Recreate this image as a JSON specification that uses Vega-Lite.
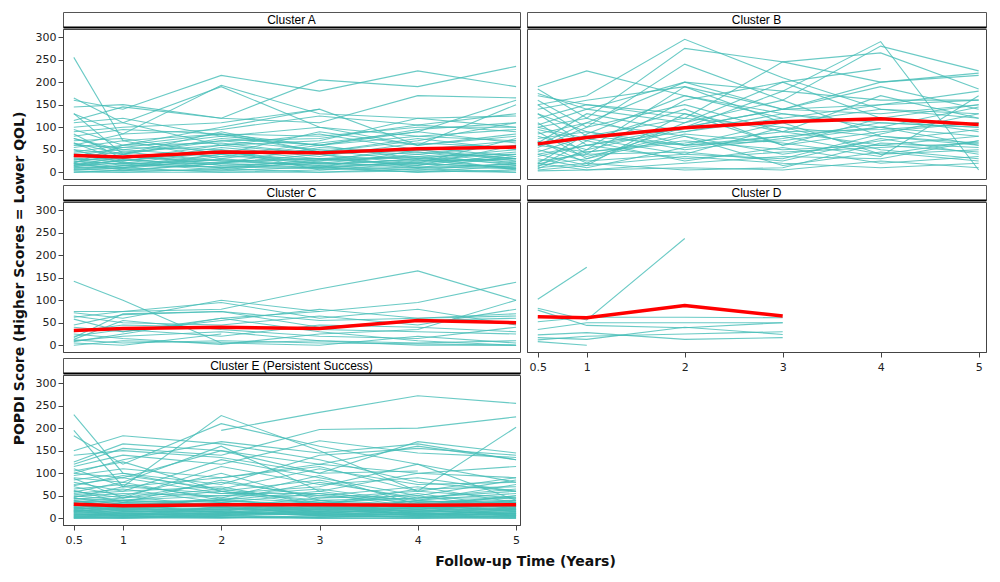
{
"$schema":"https://vega.github.io/schema/vega-lite/v6.json",
"padding":{"left":12,"top":11,"right":5,"bottom":6},
"background":"white",
"config":{
"view":{"stroke":"#444","strokeWidth":1},
"axis":{"labelFont":"DejaVu Sans","labelFontSize":11,"labelColor":"#222","tickColor":"#444","domainColor":"#444","tickSize":5,"grid":false,"labelPadding":2},
"title":{"font":"DejaVu Sans","fontSize":14,"fontWeight":"bold","color":"#111"}
},
"title":{"text":"Follow-up Time (Years)","orient":"bottom","anchor":"middle","offset":9,"dx":26},
"datasets":{
"avg":[
{"c":"A","t":0.5,"v":37},{"c":"A","t":1,"v":34},{"c":"A","t":2,"v":45},{"c":"A","t":3,"v":43},{"c":"A","t":4,"v":52},{"c":"A","t":5,"v":56},
{"c":"B","t":0.5,"v":63},{"c":"B","t":1,"v":77},{"c":"B","t":2,"v":99},{"c":"B","t":3,"v":112},{"c":"B","t":4,"v":119},{"c":"B","t":5,"v":106},
{"c":"C","t":0.5,"v":33},{"c":"C","t":1,"v":37},{"c":"C","t":2,"v":40},{"c":"C","t":3,"v":37},{"c":"C","t":4,"v":55},{"c":"C","t":5,"v":50},
{"c":"D","t":0.5,"v":63},{"c":"D","t":1,"v":61},{"c":"D","t":2,"v":88},{"c":"D","t":3,"v":65},
{"c":"E","t":0.5,"v":31},{"c":"E","t":1,"v":28},{"c":"E","t":2,"v":30},{"c":"E","t":3,"v":30},{"c":"E","t":4,"v":29},{"c":"E","t":5,"v":30}
],
"ind":[
{"c":"A","i":1,"t":0.5,"v":255},{"c":"A","i":1,"t":1,"v":70},{"c":"A","i":1,"t":2,"v":85},{"c":"A","i":1,"t":3,"v":60},{"c":"A","i":1,"t":4,"v":95},{"c":"A","i":1,"t":5,"v":110},
{"c":"A","i":2,"t":0.5,"v":165},{"c":"A","i":2,"t":1,"v":110},{"c":"A","i":2,"t":2,"v":60},{"c":"A","i":2,"t":3,"v":40},{"c":"A","i":2,"t":4,"v":50},{"c":"A","i":2,"t":5,"v":30},
{"c":"A","i":3,"t":0.5,"v":160},{"c":"A","i":3,"t":1,"v":140},{"c":"A","i":3,"t":2,"v":215},{"c":"A","i":3,"t":3,"v":180},{"c":"A","i":3,"t":4,"v":225},{"c":"A","i":3,"t":5,"v":190},
{"c":"A","i":4,"t":0.5,"v":145},{"c":"A","i":4,"t":1,"v":150},{"c":"A","i":4,"t":2,"v":120},{"c":"A","i":4,"t":3,"v":205},{"c":"A","i":4,"t":4,"v":190},{"c":"A","i":4,"t":5,"v":235},
{"c":"A","i":5,"t":0.5,"v":130},{"c":"A","i":5,"t":1,"v":85},{"c":"A","i":5,"t":2,"v":193},{"c":"A","i":5,"t":3,"v":130},{"c":"A","i":5,"t":4,"v":120},{"c":"A","i":5,"t":5,"v":100},
{"c":"A","i":6,"t":0.5,"v":130},{"c":"A","i":6,"t":1,"v":40},{"c":"A","i":6,"t":2,"v":75},{"c":"A","i":6,"t":3,"v":60},{"c":"A","i":6,"t":4,"v":90},{"c":"A","i":6,"t":5,"v":160},
{"c":"A","i":7,"t":0.5,"v":115},{"c":"A","i":7,"t":1,"v":145},{"c":"A","i":7,"t":2,"v":120},{"c":"A","i":7,"t":3,"v":110},{"c":"A","i":7,"t":4,"v":170},{"c":"A","i":7,"t":5,"v":165},
{"c":"A","i":8,"t":0.5,"v":100},{"c":"A","i":8,"t":1,"v":110},{"c":"A","i":8,"t":2,"v":190},{"c":"A","i":8,"t":3,"v":100},{"c":"A","i":8,"t":4,"v":80},{"c":"A","i":8,"t":5,"v":70},
{"c":"A","i":9,"t":0.5,"v":95},{"c":"A","i":9,"t":1,"v":60},{"c":"A","i":9,"t":2,"v":100},{"c":"A","i":9,"t":3,"v":140},{"c":"A","i":9,"t":4,"v":60},{"c":"A","i":9,"t":5,"v":80},
{"c":"A","i":10,"t":0.5,"v":85},{"c":"A","i":10,"t":1,"v":30},{"c":"A","i":10,"t":2,"v":60},{"c":"A","i":10,"t":3,"v":70},{"c":"A","i":10,"t":4,"v":120},{"c":"A","i":10,"t":5,"v":125},
{"c":"A","i":11,"t":0.5,"v":80},{"c":"A","i":11,"t":1,"v":95},{"c":"A","i":11,"t":2,"v":85},{"c":"A","i":11,"t":3,"v":80},{"c":"A","i":11,"t":4,"v":100},{"c":"A","i":11,"t":5,"v":100},
{"c":"A","i":12,"t":0.5,"v":75},{"c":"A","i":12,"t":1,"v":50},{"c":"A","i":12,"t":2,"v":70},{"c":"A","i":12,"t":3,"v":50},{"c":"A","i":12,"t":4,"v":40},{"c":"A","i":12,"t":5,"v":60},
{"c":"A","i":13,"t":0.5,"v":70},{"c":"A","i":13,"t":1,"v":75},{"c":"A","i":13,"t":2,"v":40},{"c":"A","i":13,"t":3,"v":90},{"c":"A","i":13,"t":4,"v":60},{"c":"A","i":13,"t":5,"v":85},
{"c":"A","i":14,"t":0.5,"v":65},{"c":"A","i":14,"t":1,"v":40},{"c":"A","i":14,"t":2,"v":90},{"c":"A","i":14,"t":3,"v":45},{"c":"A","i":14,"t":4,"v":75},{"c":"A","i":14,"t":5,"v":50},
{"c":"A","i":15,"t":0.5,"v":60},{"c":"A","i":15,"t":1,"v":55},{"c":"A","i":15,"t":2,"v":50},{"c":"A","i":15,"t":3,"v":30},{"c":"A","i":15,"t":4,"v":35},{"c":"A","i":15,"t":5,"v":40},
{"c":"A","i":16,"t":0.5,"v":55},{"c":"A","i":16,"t":1,"v":70},{"c":"A","i":16,"t":2,"v":30},{"c":"A","i":16,"t":3,"v":60},{"c":"A","i":16,"t":4,"v":80},{"c":"A","i":16,"t":5,"v":95},
{"c":"A","i":17,"t":0.5,"v":50},{"c":"A","i":17,"t":1,"v":20},{"c":"A","i":17,"t":2,"v":45},{"c":"A","i":17,"t":3,"v":25},{"c":"A","i":17,"t":4,"v":55},{"c":"A","i":17,"t":5,"v":35},
{"c":"A","i":18,"t":0.5,"v":45},{"c":"A","i":18,"t":1,"v":60},{"c":"A","i":18,"t":2,"v":65},{"c":"A","i":18,"t":3,"v":40},{"c":"A","i":18,"t":4,"v":20},{"c":"A","i":18,"t":5,"v":75},
{"c":"A","i":19,"t":0.5,"v":40},{"c":"A","i":19,"t":1,"v":35},{"c":"A","i":19,"t":2,"v":20},{"c":"A","i":19,"t":3,"v":55},{"c":"A","i":19,"t":4,"v":45},{"c":"A","i":19,"t":5,"v":30},
{"c":"A","i":20,"t":0.5,"v":38},{"c":"A","i":20,"t":1,"v":25},{"c":"A","i":20,"t":2,"v":55},{"c":"A","i":20,"t":3,"v":35},{"c":"A","i":20,"t":4,"v":65},{"c":"A","i":20,"t":5,"v":55},
{"c":"A","i":21,"t":0.5,"v":35},{"c":"A","i":21,"t":1,"v":45},{"c":"A","i":21,"t":2,"v":25},{"c":"A","i":21,"t":3,"v":15},{"c":"A","i":21,"t":4,"v":30},{"c":"A","i":21,"t":5,"v":20},
{"c":"A","i":22,"t":0.5,"v":30},{"c":"A","i":22,"t":1,"v":15},{"c":"A","i":22,"t":2,"v":40},{"c":"A","i":22,"t":3,"v":50},{"c":"A","i":22,"t":4,"v":25},{"c":"A","i":22,"t":5,"v":45},
{"c":"A","i":23,"t":0.5,"v":28},{"c":"A","i":23,"t":1,"v":30},{"c":"A","i":23,"t":2,"v":10},{"c":"A","i":23,"t":3,"v":20},{"c":"A","i":23,"t":4,"v":40},{"c":"A","i":23,"t":5,"v":15},
{"c":"A","i":24,"t":0.5,"v":25},{"c":"A","i":24,"t":1,"v":10},{"c":"A","i":24,"t":2,"v":35},{"c":"A","i":24,"t":3,"v":30},{"c":"A","i":24,"t":4,"v":15},{"c":"A","i":24,"t":5,"v":60},
{"c":"A","i":25,"t":0.5,"v":22},{"c":"A","i":25,"t":1,"v":40},{"c":"A","i":25,"t":2,"v":15},{"c":"A","i":25,"t":3,"v":10},{"c":"A","i":25,"t":4,"v":50},{"c":"A","i":25,"t":5,"v":25},
{"c":"A","i":26,"t":0.5,"v":20},{"c":"A","i":26,"t":1,"v":5},{"c":"A","i":26,"t":2,"v":20},{"c":"A","i":26,"t":3,"v":40},{"c":"A","i":26,"t":4,"v":10},{"c":"A","i":26,"t":5,"v":35},
{"c":"A","i":27,"t":0.5,"v":18},{"c":"A","i":27,"t":1,"v":25},{"c":"A","i":27,"t":2,"v":50},{"c":"A","i":27,"t":3,"v":5},{"c":"A","i":27,"t":4,"v":20},{"c":"A","i":27,"t":5,"v":10},
{"c":"A","i":28,"t":0.5,"v":15},{"c":"A","i":28,"t":1,"v":20},{"c":"A","i":28,"t":2,"v":5},{"c":"A","i":28,"t":3,"v":25},{"c":"A","i":28,"t":4,"v":35},{"c":"A","i":28,"t":5,"v":5},
{"c":"A","i":29,"t":0.5,"v":12},{"c":"A","i":29,"t":1,"v":8},{"c":"A","i":29,"t":2,"v":30},{"c":"A","i":29,"t":3,"v":15},{"c":"A","i":29,"t":4,"v":5},{"c":"A","i":29,"t":5,"v":20},
{"c":"A","i":30,"t":0.5,"v":10},{"c":"A","i":30,"t":1,"v":15},{"c":"A","i":30,"t":2,"v":12},{"c":"A","i":30,"t":3,"v":8},{"c":"A","i":30,"t":4,"v":25},{"c":"A","i":30,"t":5,"v":30},
{"c":"A","i":31,"t":0.5,"v":8},{"c":"A","i":31,"t":1,"v":3},{"c":"A","i":31,"t":2,"v":20},{"c":"A","i":31,"t":3,"v":10},{"c":"A","i":31,"t":4,"v":0},{"c":"A","i":31,"t":5,"v":15},
{"c":"A","i":32,"t":0.5,"v":5},{"c":"A","i":32,"t":1,"v":10},{"c":"A","i":32,"t":2,"v":0},{"c":"A","i":32,"t":3,"v":5},{"c":"A","i":32,"t":4,"v":12},{"c":"A","i":32,"t":5,"v":8},
{"c":"A","i":33,"t":0.5,"v":3},{"c":"A","i":33,"t":1,"v":0},{"c":"A","i":33,"t":2,"v":8},{"c":"A","i":33,"t":3,"v":0},{"c":"A","i":33,"t":4,"v":8},{"c":"A","i":33,"t":5,"v":0},
{"c":"A","i":34,"t":0.5,"v":0},{"c":"A","i":34,"t":1,"v":5},{"c":"A","i":34,"t":2,"v":3},{"c":"A","i":34,"t":3,"v":12},{"c":"A","i":34,"t":4,"v":0},{"c":"A","i":34,"t":5,"v":5},
{"c":"A","i":35,"t":0.5,"v":0},{"c":"A","i":35,"t":1,"v":0},{"c":"A","i":35,"t":2,"v":0},{"c":"A","i":35,"t":3,"v":0},{"c":"A","i":35,"t":4,"v":3},{"c":"A","i":35,"t":5,"v":0},
{"c":"A","i":36,"t":0.5,"v":90},{"c":"A","i":36,"t":1,"v":100},{"c":"A","i":36,"t":2,"v":110},{"c":"A","i":36,"t":3,"v":140},
{"c":"A","i":37,"t":0.5,"v":60},{"c":"A","i":37,"t":1,"v":85},{"c":"A","i":37,"t":2,"v":95},{"c":"A","i":37,"t":3,"v":125},{"c":"A","i":37,"t":4,"v":105},{"c":"A","i":37,"t":5,"v":130},
{"c":"A","i":38,"t":0.5,"v":110},{"c":"A","i":38,"t":1,"v":120},{"c":"A","i":38,"t":2,"v":80},{"c":"A","i":38,"t":3,"v":100},{"c":"A","i":38,"t":4,"v":60},{"c":"A","i":38,"t":5,"v":150},
{"c":"A","i":39,"t":0.5,"v":50},{"c":"A","i":39,"t":1,"v":40},{"c":"A","i":39,"t":2,"v":70},{"c":"A","i":39,"t":3,"v":75},{"c":"A","i":39,"t":4,"v":105},{"c":"A","i":39,"t":5,"v":90},
{"c":"A","i":40,"t":0.5,"v":20},{"c":"A","i":40,"t":1,"v":60},{"c":"A","i":40,"t":2,"v":85},{"c":"A","i":40,"t":3,"v":45},{"c":"A","i":40,"t":4,"v":70},{"c":"A","i":40,"t":5,"v":110},
{"c":"A","i":41,"t":0.5,"v":75},{"c":"A","i":41,"t":1,"v":45},{"c":"A","i":41,"t":2,"v":60},{"c":"A","i":41,"t":3,"v":85},{"c":"A","i":41,"t":4,"v":50},{"c":"A","i":41,"t":5,"v":70},
{"c":"A","i":42,"t":0.5,"v":42},{"c":"A","i":42,"t":1,"v":50},{"c":"A","i":42,"t":2,"v":35},{"c":"A","i":42,"t":3,"v":65},{"c":"A","i":42,"t":4,"v":90},{"c":"A","i":42,"t":5,"v":65},
{"c":"A","i":43,"t":0.5,"v":15},{"c":"A","i":43,"t":1,"v":35},{"c":"A","i":43,"t":2,"v":25},{"c":"A","i":43,"t":3,"v":30},{"c":"A","i":43,"t":4,"v":45},{"c":"A","i":43,"t":5,"v":20},
{"c":"A","i":44,"t":0.5,"v":65},{"c":"A","i":44,"t":1,"v":25},{"c":"A","i":44,"t":2,"v":45},{"c":"A","i":44,"t":3,"v":20},{"c":"A","i":44,"t":4,"v":15},{"c":"A","i":44,"t":5,"v":40},
{"c":"A","i":45,"t":0.5,"v":35},{"c":"A","i":45,"t":1,"v":55},{"c":"A","i":45,"t":2,"v":80},{"c":"A","i":45,"t":3,"v":60},{"c":"A","i":45,"t":4,"v":30},{"c":"A","i":45,"t":5,"v":50},
{"c":"A","i":46,"t":0.5,"v":25},{"c":"A","i":46,"t":1,"v":18},{"c":"A","i":46,"t":2,"v":28},{"c":"A","i":46,"t":3,"v":12},{"c":"A","i":46,"t":4,"v":22},{"c":"A","i":46,"t":5,"v":30},
{"c":"A","i":47,"t":0.5,"v":12},{"c":"A","i":47,"t":1,"v":28},{"c":"A","i":47,"t":2,"v":16},{"c":"A","i":47,"t":3,"v":22},{"c":"A","i":47,"t":4,"v":10},{"c":"A","i":47,"t":5,"v":18},
{"c":"A","i":48,"t":0.5,"v":6},{"c":"A","i":48,"t":1,"v":14},{"c":"A","i":48,"t":2,"v":22},{"c":"A","i":48,"t":3,"v":30},{"c":"A","i":48,"t":4,"v":18},{"c":"A","i":48,"t":5,"v":12},
{"c":"A","i":49,"t":0.5,"v":32},{"c":"A","i":49,"t":1,"v":22},{"c":"A","i":49,"t":2,"v":10},{"c":"A","i":49,"t":3,"v":28},{"c":"A","i":49,"t":4,"v":32},{"c":"A","i":49,"t":5,"v":24},
{"c":"A","i":50,"t":0.5,"v":18},{"c":"A","i":50,"t":1,"v":10},{"c":"A","i":50,"t":2,"v":40},{"c":"A","i":50,"t":3,"v":18},{"c":"A","i":50,"t":4,"v":28},{"c":"A","i":50,"t":5,"v":8},
{"c":"B","i":1,"t":0.5,"v":150},{"c":"B","i":1,"t":1,"v":170},{"c":"B","i":1,"t":2,"v":295},{"c":"B","i":1,"t":3,"v":210},{"c":"B","i":1,"t":4,"v":140},{"c":"B","i":1,"t":5,"v":120},
{"c":"B","i":2,"t":0.5,"v":190},{"c":"B","i":2,"t":1,"v":225},{"c":"B","i":2,"t":2,"v":170},{"c":"B","i":2,"t":3,"v":130},{"c":"B","i":2,"t":4,"v":100},{"c":"B","i":2,"t":5,"v":60},
{"c":"B","i":3,"t":0.5,"v":185},{"c":"B","i":3,"t":1,"v":120},{"c":"B","i":3,"t":2,"v":275},{"c":"B","i":3,"t":3,"v":245},{"c":"B","i":3,"t":4,"v":200},{"c":"B","i":3,"t":5,"v":220},
{"c":"B","i":4,"t":0.5,"v":175},{"c":"B","i":4,"t":1,"v":140},{"c":"B","i":4,"t":2,"v":200},{"c":"B","i":4,"t":3,"v":180},{"c":"B","i":4,"t":4,"v":290},{"c":"B","i":4,"t":5,"v":5},
{"c":"B","i":5,"t":0.5,"v":160},{"c":"B","i":5,"t":1,"v":100},{"c":"B","i":5,"t":2,"v":240},{"c":"B","i":5,"t":3,"v":160},{"c":"B","i":5,"t":4,"v":280},{"c":"B","i":5,"t":5,"v":225},
{"c":"B","i":6,"t":0.5,"v":150},{"c":"B","i":6,"t":1,"v":80},{"c":"B","i":6,"t":2,"v":120},{"c":"B","i":6,"t":3,"v":245},{"c":"B","i":6,"t":4,"v":265},{"c":"B","i":6,"t":5,"v":185},
{"c":"B","i":7,"t":0.5,"v":140},{"c":"B","i":7,"t":1,"v":160},{"c":"B","i":7,"t":2,"v":190},{"c":"B","i":7,"t":3,"v":140},{"c":"B","i":7,"t":4,"v":200},{"c":"B","i":7,"t":5,"v":215},
{"c":"B","i":8,"t":0.5,"v":130},{"c":"B","i":8,"t":1,"v":60},{"c":"B","i":8,"t":2,"v":100},{"c":"B","i":8,"t":3,"v":180},{"c":"B","i":8,"t":4,"v":160},{"c":"B","i":8,"t":5,"v":160},
{"c":"B","i":9,"t":0.5,"v":120},{"c":"B","i":9,"t":1,"v":150},{"c":"B","i":9,"t":2,"v":130},{"c":"B","i":9,"t":3,"v":90},{"c":"B","i":9,"t":4,"v":60},{"c":"B","i":9,"t":5,"v":80},
{"c":"B","i":10,"t":0.5,"v":110},{"c":"B","i":10,"t":1,"v":40},{"c":"B","i":10,"t":2,"v":160},{"c":"B","i":10,"t":3,"v":200},{"c":"B","i":10,"t":4,"v":120},{"c":"B","i":10,"t":5,"v":150},
{"c":"B","i":11,"t":0.5,"v":100},{"c":"B","i":11,"t":1,"v":120},{"c":"B","i":11,"t":2,"v":60},{"c":"B","i":11,"t":3,"v":110},{"c":"B","i":11,"t":4,"v":140},{"c":"B","i":11,"t":5,"v":130},
{"c":"B","i":12,"t":0.5,"v":95},{"c":"B","i":12,"t":1,"v":70},{"c":"B","i":12,"t":2,"v":140},{"c":"B","i":12,"t":3,"v":60},{"c":"B","i":12,"t":4,"v":90},{"c":"B","i":12,"t":5,"v":110},
{"c":"B","i":13,"t":0.5,"v":90},{"c":"B","i":13,"t":1,"v":30},{"c":"B","i":13,"t":2,"v":100},{"c":"B","i":13,"t":3,"v":140},{"c":"B","i":13,"t":4,"v":190},{"c":"B","i":13,"t":5,"v":140},
{"c":"B","i":14,"t":0.5,"v":85},{"c":"B","i":14,"t":1,"v":110},{"c":"B","i":14,"t":2,"v":80},{"c":"B","i":14,"t":3,"v":40},{"c":"B","i":14,"t":4,"v":70},{"c":"B","i":14,"t":5,"v":95},
{"c":"B","i":15,"t":0.5,"v":80},{"c":"B","i":15,"t":1,"v":50},{"c":"B","i":15,"t":2,"v":190},{"c":"B","i":15,"t":3,"v":110},{"c":"B","i":15,"t":4,"v":40},{"c":"B","i":15,"t":5,"v":70},
{"c":"B","i":16,"t":0.5,"v":75},{"c":"B","i":16,"t":1,"v":90},{"c":"B","i":16,"t":2,"v":50},{"c":"B","i":16,"t":3,"v":75},{"c":"B","i":16,"t":4,"v":110},{"c":"B","i":16,"t":5,"v":100},
{"c":"B","i":17,"t":0.5,"v":70},{"c":"B","i":17,"t":1,"v":20},{"c":"B","i":17,"t":2,"v":110},{"c":"B","i":17,"t":3,"v":160},{"c":"B","i":17,"t":4,"v":80},{"c":"B","i":17,"t":5,"v":60},
{"c":"B","i":18,"t":0.5,"v":65},{"c":"B","i":18,"t":1,"v":130},{"c":"B","i":18,"t":2,"v":90},{"c":"B","i":18,"t":3,"v":120},{"c":"B","i":18,"t":4,"v":150},{"c":"B","i":18,"t":5,"v":180},
{"c":"B","i":19,"t":0.5,"v":60},{"c":"B","i":19,"t":1,"v":45},{"c":"B","i":19,"t":2,"v":70},{"c":"B","i":19,"t":3,"v":50},{"c":"B","i":19,"t":4,"v":60},{"c":"B","i":19,"t":5,"v":45},
{"c":"B","i":20,"t":0.5,"v":55},{"c":"B","i":20,"t":1,"v":100},{"c":"B","i":20,"t":2,"v":150},{"c":"B","i":20,"t":3,"v":90},{"c":"B","i":20,"t":4,"v":170},{"c":"B","i":20,"t":5,"v":120},
{"c":"B","i":21,"t":0.5,"v":50},{"c":"B","i":21,"t":1,"v":25},{"c":"B","i":21,"t":2,"v":40},{"c":"B","i":21,"t":3,"v":100},{"c":"B","i":21,"t":4,"v":50},{"c":"B","i":21,"t":5,"v":30},
{"c":"B","i":22,"t":0.5,"v":45},{"c":"B","i":22,"t":1,"v":80},{"c":"B","i":22,"t":2,"v":60},{"c":"B","i":22,"t":3,"v":70},{"c":"B","i":22,"t":4,"v":100},{"c":"B","i":22,"t":5,"v":80},
{"c":"B","i":23,"t":0.5,"v":40},{"c":"B","i":23,"t":1,"v":15},{"c":"B","i":23,"t":2,"v":130},{"c":"B","i":23,"t":3,"v":60},{"c":"B","i":23,"t":4,"v":120},{"c":"B","i":23,"t":5,"v":90},
{"c":"B","i":24,"t":0.5,"v":35},{"c":"B","i":24,"t":1,"v":60},{"c":"B","i":24,"t":2,"v":30},{"c":"B","i":24,"t":3,"v":45},{"c":"B","i":24,"t":4,"v":55},{"c":"B","i":24,"t":5,"v":65},
{"c":"B","i":25,"t":0.5,"v":30},{"c":"B","i":25,"t":1,"v":10},{"c":"B","i":25,"t":2,"v":55},{"c":"B","i":25,"t":3,"v":80},{"c":"B","i":25,"t":4,"v":40},{"c":"B","i":25,"t":5,"v":50},
{"c":"B","i":26,"t":0.5,"v":25},{"c":"B","i":26,"t":1,"v":40},{"c":"B","i":26,"t":2,"v":45},{"c":"B","i":26,"t":3,"v":25},{"c":"B","i":26,"t":4,"v":75},{"c":"B","i":26,"t":5,"v":40},
{"c":"B","i":27,"t":0.5,"v":20},{"c":"B","i":27,"t":1,"v":5},{"c":"B","i":27,"t":2,"v":20},{"c":"B","i":27,"t":3,"v":35},{"c":"B","i":27,"t":4,"v":30},{"c":"B","i":27,"t":5,"v":70},
{"c":"B","i":28,"t":0.5,"v":15},{"c":"B","i":28,"t":1,"v":30},{"c":"B","i":28,"t":2,"v":80},{"c":"B","i":28,"t":3,"v":15},{"c":"B","i":28,"t":4,"v":45},{"c":"B","i":28,"t":5,"v":25},
{"c":"B","i":29,"t":0.5,"v":12},{"c":"B","i":29,"t":1,"v":70},{"c":"B","i":29,"t":2,"v":25},{"c":"B","i":29,"t":3,"v":55},{"c":"B","i":29,"t":4,"v":20},{"c":"B","i":29,"t":5,"v":35},
{"c":"B","i":30,"t":0.5,"v":10},{"c":"B","i":30,"t":1,"v":20},{"c":"B","i":30,"t":2,"v":5},{"c":"B","i":30,"t":3,"v":10},{"c":"B","i":30,"t":4,"v":65},{"c":"B","i":30,"t":5,"v":55},
{"c":"B","i":31,"t":0.5,"v":8},{"c":"B","i":31,"t":1,"v":50},{"c":"B","i":31,"t":2,"v":100},{"c":"B","i":31,"t":3,"v":140},{"c":"B","i":31,"t":4,"v":130},{"c":"B","i":31,"t":5,"v":150},
{"c":"B","i":32,"t":0.5,"v":5},{"c":"B","i":32,"t":1,"v":15},{"c":"B","i":32,"t":2,"v":35},{"c":"B","i":32,"t":3,"v":20},{"c":"B","i":32,"t":4,"v":10},{"c":"B","i":32,"t":5,"v":20},
{"c":"B","i":33,"t":0.5,"v":3},{"c":"B","i":33,"t":1,"v":5},{"c":"B","i":33,"t":2,"v":10},{"c":"B","i":33,"t":3,"v":5},{"c":"B","i":33,"t":4,"v":25},{"c":"B","i":33,"t":5,"v":10},
{"c":"B","i":34,"t":0.5,"v":20},{"c":"B","i":34,"t":1,"v":85},{"c":"B","i":34,"t":2,"v":170},{"c":"B","i":34,"t":3,"v":120},
{"c":"B","i":35,"t":0.5,"v":130},{"c":"B","i":35,"t":1,"v":90},{"c":"B","i":35,"t":2,"v":60},{"c":"B","i":35,"t":3,"v":80},{"c":"B","i":35,"t":4,"v":100},{"c":"B","i":35,"t":5,"v":145},
{"c":"B","i":36,"t":0.5,"v":105},{"c":"B","i":36,"t":1,"v":140},{"c":"B","i":36,"t":2,"v":110},{"c":"B","i":36,"t":3,"v":200},{"c":"B","i":36,"t":4,"v":230},
{"c":"B","i":37,"t":0.5,"v":60},{"c":"B","i":37,"t":1,"v":110},{"c":"B","i":37,"t":2,"v":200},{"c":"B","i":37,"t":3,"v":140},{"c":"B","i":37,"t":4,"v":150},{"c":"B","i":37,"t":5,"v":160},
{"c":"B","i":38,"t":0.5,"v":40},{"c":"B","i":38,"t":1,"v":60},{"c":"B","i":38,"t":2,"v":90},{"c":"B","i":38,"t":3,"v":130},{"c":"B","i":38,"t":4,"v":110},{"c":"B","i":38,"t":5,"v":100},
{"c":"B","i":39,"t":0.5,"v":100},{"c":"B","i":39,"t":1,"v":75},{"c":"B","i":39,"t":2,"v":40},{"c":"B","i":39,"t":3,"v":30},{"c":"B","i":39,"t":4,"v":85},{"c":"B","i":39,"t":5,"v":130},
{"c":"B","i":40,"t":0.5,"v":170},{"c":"B","i":40,"t":1,"v":150},{"c":"B","i":40,"t":2,"v":120},{"c":"B","i":40,"t":3,"v":100},{"c":"B","i":40,"t":4,"v":80},{"c":"B","i":40,"t":5,"v":65},
{"c":"B","i":41,"t":0.5,"v":18},{"c":"B","i":41,"t":1,"v":45},{"c":"B","i":41,"t":2,"v":65},{"c":"B","i":41,"t":3,"v":90},{"c":"B","i":41,"t":4,"v":95},{"c":"B","i":41,"t":5,"v":110},
{"c":"B","i":42,"t":0.5,"v":68},{"c":"B","i":42,"t":1,"v":35},{"c":"B","i":42,"t":2,"v":85},{"c":"B","i":42,"t":3,"v":65},{"c":"B","i":42,"t":4,"v":35},{"c":"B","i":42,"t":5,"v":170},
{"c":"C","i":1,"t":0.5,"v":142},{"c":"C","i":1,"t":1,"v":100},{"c":"C","i":1,"t":2,"v":5},{"c":"C","i":1,"t":3,"v":10},{"c":"C","i":1,"t":4,"v":0},{"c":"C","i":1,"t":5,"v":0},
{"c":"C","i":2,"t":0.5,"v":75},{"c":"C","i":2,"t":1,"v":75},{"c":"C","i":2,"t":2,"v":80},{"c":"C","i":2,"t":3,"v":125},{"c":"C","i":2,"t":4,"v":165},{"c":"C","i":2,"t":5,"v":100},
{"c":"C","i":3,"t":0.5,"v":72},{"c":"C","i":3,"t":1,"v":60},{"c":"C","i":3,"t":2,"v":100},{"c":"C","i":3,"t":3,"v":75},{"c":"C","i":3,"t":4,"v":95},{"c":"C","i":3,"t":5,"v":140},
{"c":"C","i":4,"t":0.5,"v":62},{"c":"C","i":4,"t":1,"v":75},{"c":"C","i":4,"t":2,"v":95},{"c":"C","i":4,"t":3,"v":60},{"c":"C","i":4,"t":4,"v":80},{"c":"C","i":4,"t":5,"v":45},
{"c":"C","i":5,"t":0.5,"v":58},{"c":"C","i":5,"t":1,"v":30},{"c":"C","i":5,"t":2,"v":55},{"c":"C","i":5,"t":3,"v":80},{"c":"C","i":5,"t":4,"v":60},{"c":"C","i":5,"t":5,"v":70},
{"c":"C","i":6,"t":0.5,"v":45},{"c":"C","i":6,"t":1,"v":68},{"c":"C","i":6,"t":2,"v":75},{"c":"C","i":6,"t":3,"v":40},{"c":"C","i":6,"t":4,"v":55},{"c":"C","i":6,"t":5,"v":60},
{"c":"C","i":7,"t":0.5,"v":30},{"c":"C","i":7,"t":1,"v":45},{"c":"C","i":7,"t":2,"v":40},{"c":"C","i":7,"t":3,"v":35},{"c":"C","i":7,"t":4,"v":30},{"c":"C","i":7,"t":5,"v":25},
{"c":"C","i":8,"t":0.5,"v":17},{"c":"C","i":8,"t":1,"v":70},{"c":"C","i":8,"t":2,"v":75},{"c":"C","i":8,"t":3,"v":55},{"c":"C","i":8,"t":4,"v":60},{"c":"C","i":8,"t":5,"v":65},
{"c":"C","i":9,"t":0.5,"v":13},{"c":"C","i":9,"t":1,"v":55},{"c":"C","i":9,"t":2,"v":35},{"c":"C","i":9,"t":3,"v":20},{"c":"C","i":9,"t":4,"v":15},{"c":"C","i":9,"t":5,"v":40},
{"c":"C","i":10,"t":0.5,"v":10},{"c":"C","i":10,"t":1,"v":20},{"c":"C","i":10,"t":2,"v":30},{"c":"C","i":10,"t":3,"v":10},{"c":"C","i":10,"t":4,"v":5},{"c":"C","i":10,"t":5,"v":10},
{"c":"C","i":11,"t":0.5,"v":0},{"c":"C","i":11,"t":1,"v":10},{"c":"C","i":11,"t":2,"v":5},{"c":"C","i":11,"t":3,"v":0},{"c":"C","i":11,"t":4,"v":20},{"c":"C","i":11,"t":5,"v":5},
{"c":"C","i":12,"t":0.5,"v":5},{"c":"C","i":12,"t":1,"v":0},{"c":"C","i":12,"t":2,"v":25},
{"c":"C","i":13,"t":0.5,"v":20},{"c":"C","i":13,"t":1,"v":35},{"c":"C","i":13,"t":2,"v":20},{"c":"C","i":13,"t":3,"v":45},{"c":"C","i":13,"t":4,"v":40},{"c":"C","i":13,"t":5,"v":30},
{"c":"C","i":14,"t":0.5,"v":12},{"c":"C","i":14,"t":1,"v":5},{"c":"C","i":14,"t":2,"v":10},{"c":"C","i":14,"t":3,"v":5},{"c":"C","i":14,"t":4,"v":3},{"c":"C","i":14,"t":5,"v":0},
{"c":"C","i":15,"t":0.5,"v":40},{"c":"C","i":15,"t":1,"v":30},{"c":"C","i":15,"t":2,"v":60},{"c":"C","i":15,"t":3,"v":75},
{"c":"C","i":16,"t":0.5,"v":25},{"c":"C","i":16,"t":1,"v":15},{"c":"C","i":16,"t":2,"v":2},{"c":"C","i":16,"t":3,"v":25},{"c":"C","i":16,"t":4,"v":35},{"c":"C","i":16,"t":5,"v":100},
{"c":"C","i":17,"t":0.5,"v":65},{"c":"C","i":17,"t":1,"v":50},{"c":"C","i":17,"t":2,"v":45},{"c":"C","i":17,"t":3,"v":65},{"c":"C","i":17,"t":4,"v":45},{"c":"C","i":17,"t":5,"v":80},
{"c":"C","i":18,"t":0.5,"v":8},{"c":"C","i":18,"t":1,"v":25},{"c":"C","i":18,"t":2,"v":60},{"c":"C","i":18,"t":3,"v":30},{"c":"C","i":18,"t":4,"v":10},{"c":"C","i":18,"t":5,"v":0},
{"c":"D","i":1,"t":0.5,"v":102},{"c":"D","i":1,"t":1,"v":173},
{"c":"D","i":2,"t":0.5,"v":82},{"c":"D","i":2,"t":1,"v":56},{"c":"D","i":2,"t":2,"v":237},
{"c":"D","i":3,"t":0.5,"v":78},{"c":"D","i":3,"t":1,"v":44},{"c":"D","i":3,"t":2,"v":39},{"c":"D","i":3,"t":3,"v":50},
{"c":"D","i":4,"t":0.5,"v":52},{"c":"D","i":4,"t":1,"v":62},{"c":"D","i":4,"t":2,"v":62},{"c":"D","i":4,"t":3,"v":61},
{"c":"D","i":5,"t":0.5,"v":35},{"c":"D","i":5,"t":1,"v":50},{"c":"D","i":5,"t":2,"v":50},{"c":"D","i":5,"t":3,"v":50},
{"c":"D","i":6,"t":0.5,"v":23},{"c":"D","i":6,"t":1,"v":28},{"c":"D","i":6,"t":2,"v":13},{"c":"D","i":6,"t":3,"v":17},
{"c":"D","i":7,"t":0.5,"v":17},{"c":"D","i":7,"t":1,"v":13},{"c":"D","i":7,"t":2,"v":40},{"c":"D","i":7,"t":3,"v":24},
{"c":"D","i":8,"t":0.5,"v":8},{"c":"D","i":8,"t":1,"v":0},
{"c":"D","i":9,"t":0.5,"v":12},{"c":"D","i":9,"t":1,"v":20},{"c":"D","i":9,"t":2,"v":25},{"c":"D","i":9,"t":3,"v":30},
{"c":"E","i":1,"t":0.5,"v":230},{"c":"E","i":1,"t":1,"v":100},{"c":"E","i":1,"t":2,"v":60},{"c":"E","i":1,"t":3,"v":40},{"c":"E","i":1,"t":4,"v":30},{"c":"E","i":1,"t":5,"v":20},
{"c":"E","i":2,"t":0.5,"v":195},{"c":"E","i":2,"t":1,"v":70},{"c":"E","i":2,"t":2,"v":228},{"c":"E","i":2,"t":3,"v":150},{"c":"E","i":2,"t":4,"v":60},{"c":"E","i":2,"t":5,"v":45},
{"c":"E","i":3,"t":0.5,"v":183},{"c":"E","i":3,"t":1,"v":120},{"c":"E","i":3,"t":2,"v":210},{"c":"E","i":3,"t":3,"v":160},{"c":"E","i":3,"t":4,"v":120},{"c":"E","i":3,"t":5,"v":80},
{"c":"E","i":4,"t":0.5,"v":150},{"c":"E","i":4,"t":1,"v":183},{"c":"E","i":4,"t":2,"v":165},{"c":"E","i":4,"t":3,"v":130},{"c":"E","i":4,"t":4,"v":80},{"c":"E","i":4,"t":5,"v":60},
{"c":"E","i":5,"t":0.5,"v":125},{"c":"E","i":5,"t":1,"v":165},{"c":"E","i":5,"t":2,"v":150},{"c":"E","i":5,"t":3,"v":100},{"c":"E","i":5,"t":4,"v":170},{"c":"E","i":5,"t":5,"v":145},
{"c":"E","i":6,"t":0.5,"v":120},{"c":"E","i":6,"t":1,"v":155},{"c":"E","i":6,"t":2,"v":140},{"c":"E","i":6,"t":3,"v":197},{"c":"E","i":6,"t":4,"v":200},{"c":"E","i":6,"t":5,"v":225},
{"c":"E","i":7,"t":0.5,"v":115},{"c":"E","i":7,"t":1,"v":140},{"c":"E","i":7,"t":2,"v":120},{"c":"E","i":7,"t":3,"v":172},{"c":"E","i":7,"t":4,"v":145},{"c":"E","i":7,"t":5,"v":135},
{"c":"E","i":8,"t":2,"v":195},{"c":"E","i":8,"t":3,"v":235},{"c":"E","i":8,"t":4,"v":272},{"c":"E","i":8,"t":5,"v":255},
{"c":"E","i":9,"t":0.5,"v":100},{"c":"E","i":9,"t":1,"v":130},{"c":"E","i":9,"t":2,"v":170},{"c":"E","i":9,"t":3,"v":145},{"c":"E","i":9,"t":4,"v":165},{"c":"E","i":9,"t":5,"v":130},
{"c":"E","i":10,"t":0.5,"v":95},{"c":"E","i":10,"t":1,"v":110},{"c":"E","i":10,"t":2,"v":90},{"c":"E","i":10,"t":3,"v":115},{"c":"E","i":10,"t":4,"v":60},{"c":"E","i":10,"t":5,"v":202},
{"c":"E","i":11,"t":0.5,"v":90},{"c":"E","i":11,"t":1,"v":80},{"c":"E","i":11,"t":2,"v":160},{"c":"E","i":11,"t":3,"v":60},{"c":"E","i":11,"t":4,"v":100},{"c":"E","i":11,"t":5,"v":115},
{"c":"E","i":12,"t":0.5,"v":85},{"c":"E","i":12,"t":1,"v":100},{"c":"E","i":12,"t":2,"v":75},{"c":"E","i":12,"t":3,"v":140},{"c":"E","i":12,"t":4,"v":155},{"c":"E","i":12,"t":5,"v":140},
{"c":"E","i":13,"t":0.5,"v":80},{"c":"E","i":13,"t":1,"v":60},{"c":"E","i":13,"t":2,"v":130},{"c":"E","i":13,"t":3,"v":90},{"c":"E","i":13,"t":4,"v":50},{"c":"E","i":13,"t":5,"v":85},
{"c":"E","i":14,"t":0.5,"v":75},{"c":"E","i":14,"t":1,"v":90},{"c":"E","i":14,"t":2,"v":55},{"c":"E","i":14,"t":3,"v":70},{"c":"E","i":14,"t":4,"v":120},{"c":"E","i":14,"t":5,"v":40},
{"c":"E","i":15,"t":0.5,"v":70},{"c":"E","i":15,"t":1,"v":50},{"c":"E","i":15,"t":2,"v":100},{"c":"E","i":15,"t":3,"v":40},{"c":"E","i":15,"t":4,"v":45},{"c":"E","i":15,"t":5,"v":65},
{"c":"E","i":16,"t":0.5,"v":65},{"c":"E","i":16,"t":1,"v":75},{"c":"E","i":16,"t":2,"v":45},{"c":"E","i":16,"t":3,"v":95},{"c":"E","i":16,"t":4,"v":30},{"c":"E","i":16,"t":5,"v":50},
{"c":"E","i":17,"t":0.5,"v":60},{"c":"E","i":17,"t":1,"v":45},{"c":"E","i":17,"t":2,"v":80},{"c":"E","i":17,"t":3,"v":50},{"c":"E","i":17,"t":4,"v":70},{"c":"E","i":17,"t":5,"v":35},
{"c":"E","i":18,"t":0.5,"v":55},{"c":"E","i":18,"t":1,"v":65},{"c":"E","i":18,"t":2,"v":35},{"c":"E","i":18,"t":3,"v":55},{"c":"E","i":18,"t":4,"v":40},{"c":"E","i":18,"t":5,"v":55},
{"c":"E","i":19,"t":0.5,"v":50},{"c":"E","i":19,"t":1,"v":40},{"c":"E","i":19,"t":2,"v":60},{"c":"E","i":19,"t":3,"v":30},{"c":"E","i":19,"t":4,"v":55},{"c":"E","i":19,"t":5,"v":25},
{"c":"E","i":20,"t":0.5,"v":48},{"c":"E","i":20,"t":1,"v":55},{"c":"E","i":20,"t":2,"v":50},{"c":"E","i":20,"t":3,"v":65},{"c":"E","i":20,"t":4,"v":35},{"c":"E","i":20,"t":5,"v":45},
{"c":"E","i":21,"t":0.5,"v":45},{"c":"E","i":21,"t":1,"v":30},{"c":"E","i":21,"t":2,"v":40},{"c":"E","i":21,"t":3,"v":25},{"c":"E","i":21,"t":4,"v":25},{"c":"E","i":21,"t":5,"v":30},
{"c":"E","i":22,"t":0.5,"v":42},{"c":"E","i":22,"t":1,"v":50},{"c":"E","i":22,"t":2,"v":25},{"c":"E","i":22,"t":3,"v":45},{"c":"E","i":22,"t":4,"v":50},{"c":"E","i":22,"t":5,"v":20},
{"c":"E","i":23,"t":0.5,"v":40},{"c":"E","i":23,"t":1,"v":25},{"c":"E","i":23,"t":2,"v":45},{"c":"E","i":23,"t":3,"v":35},{"c":"E","i":23,"t":4,"v":20},{"c":"E","i":23,"t":5,"v":40},
{"c":"E","i":24,"t":0.5,"v":38},{"c":"E","i":24,"t":1,"v":35},{"c":"E","i":24,"t":2,"v":30},{"c":"E","i":24,"t":3,"v":20},{"c":"E","i":24,"t":4,"v":30},{"c":"E","i":24,"t":5,"v":15},
{"c":"E","i":25,"t":0.5,"v":35},{"c":"E","i":25,"t":1,"v":20},{"c":"E","i":25,"t":2,"v":20},{"c":"E","i":25,"t":3,"v":30},{"c":"E","i":25,"t":4,"v":15},{"c":"E","i":25,"t":5,"v":35},
{"c":"E","i":26,"t":0.5,"v":32},{"c":"E","i":26,"t":1,"v":30},{"c":"E","i":26,"t":2,"v":35},{"c":"E","i":26,"t":3,"v":15},{"c":"E","i":26,"t":4,"v":40},{"c":"E","i":26,"t":5,"v":25},
{"c":"E","i":27,"t":0.5,"v":30},{"c":"E","i":27,"t":1,"v":15},{"c":"E","i":27,"t":2,"v":15},{"c":"E","i":27,"t":3,"v":40},{"c":"E","i":27,"t":4,"v":10},{"c":"E","i":27,"t":5,"v":10},
{"c":"E","i":28,"t":0.5,"v":28},{"c":"E","i":28,"t":1,"v":25},{"c":"E","i":28,"t":2,"v":25},{"c":"E","i":28,"t":3,"v":10},{"c":"E","i":28,"t":4,"v":25},{"c":"E","i":28,"t":5,"v":30},
{"c":"E","i":29,"t":0.5,"v":25},{"c":"E","i":29,"t":1,"v":10},{"c":"E","i":29,"t":2,"v":10},{"c":"E","i":29,"t":3,"v":25},{"c":"E","i":29,"t":4,"v":5},{"c":"E","i":29,"t":5,"v":20},
{"c":"E","i":30,"t":0.5,"v":22},{"c":"E","i":30,"t":1,"v":20},{"c":"E","i":30,"t":2,"v":30},{"c":"E","i":30,"t":3,"v":5},{"c":"E","i":30,"t":4,"v":20},{"c":"E","i":30,"t":5,"v":5},
{"c":"E","i":31,"t":0.5,"v":20},{"c":"E","i":31,"t":1,"v":5},{"c":"E","i":31,"t":2,"v":5},{"c":"E","i":31,"t":3,"v":20},{"c":"E","i":31,"t":4,"v":15},{"c":"E","i":31,"t":5,"v":25},
{"c":"E","i":32,"t":0.5,"v":18},{"c":"E","i":32,"t":1,"v":15},{"c":"E","i":32,"t":2,"v":20},{"c":"E","i":32,"t":3,"v":12},{"c":"E","i":32,"t":4,"v":10},{"c":"E","i":32,"t":5,"v":15},
{"c":"E","i":33,"t":0.5,"v":15},{"c":"E","i":33,"t":1,"v":10},{"c":"E","i":33,"t":2,"v":12},{"c":"E","i":33,"t":3,"v":8},{"c":"E","i":33,"t":4,"v":8},{"c":"E","i":33,"t":5,"v":10},
{"c":"E","i":34,"t":0.5,"v":12},{"c":"E","i":34,"t":1,"v":8},{"c":"E","i":34,"t":2,"v":8},{"c":"E","i":34,"t":3,"v":15},{"c":"E","i":34,"t":4,"v":12},{"c":"E","i":34,"t":5,"v":5},
{"c":"E","i":35,"t":0.5,"v":10},{"c":"E","i":35,"t":1,"v":5},{"c":"E","i":35,"t":2,"v":15},{"c":"E","i":35,"t":3,"v":5},{"c":"E","i":35,"t":4,"v":3},{"c":"E","i":35,"t":5,"v":12},
{"c":"E","i":36,"t":0.5,"v":8},{"c":"E","i":36,"t":1,"v":3},{"c":"E","i":36,"t":2,"v":5},{"c":"E","i":36,"t":3,"v":10},{"c":"E","i":36,"t":4,"v":7},{"c":"E","i":36,"t":5,"v":8},
{"c":"E","i":37,"t":0.5,"v":6},{"c":"E","i":37,"t":1,"v":12},{"c":"E","i":37,"t":2,"v":3},{"c":"E","i":37,"t":3,"v":3},{"c":"E","i":37,"t":4,"v":5},{"c":"E","i":37,"t":5,"v":3},
{"c":"E","i":38,"t":0.5,"v":5},{"c":"E","i":38,"t":1,"v":2},{"c":"E","i":38,"t":2,"v":10},{"c":"E","i":38,"t":3,"v":8},{"c":"E","i":38,"t":4,"v":2},{"c":"E","i":38,"t":5,"v":6},
{"c":"E","i":39,"t":0.5,"v":3},{"c":"E","i":39,"t":1,"v":6},{"c":"E","i":39,"t":2,"v":2},{"c":"E","i":39,"t":3,"v":2},{"c":"E","i":39,"t":4,"v":10},{"c":"E","i":39,"t":5,"v":2},
{"c":"E","i":40,"t":0.5,"v":2},{"c":"E","i":40,"t":1,"v":0},{"c":"E","i":40,"t":2,"v":6},{"c":"E","i":40,"t":3,"v":0},{"c":"E","i":40,"t":4,"v":0},{"c":"E","i":40,"t":5,"v":4},
{"c":"E","i":41,"t":0.5,"v":0},{"c":"E","i":41,"t":1,"v":3},{"c":"E","i":41,"t":2,"v":0},{"c":"E","i":41,"t":3,"v":6},{"c":"E","i":41,"t":4,"v":4},{"c":"E","i":41,"t":5,"v":0},
{"c":"E","i":42,"t":0.5,"v":0},{"c":"E","i":42,"t":1,"v":0},{"c":"E","i":42,"t":2,"v":2},{"c":"E","i":42,"t":3,"v":1},{"c":"E","i":42,"t":4,"v":0},{"c":"E","i":42,"t":5,"v":1},
{"c":"E","i":43,"t":0.5,"v":1},{"c":"E","i":43,"t":1,"v":1},{"c":"E","i":43,"t":2,"v":1},{"c":"E","i":43,"t":3,"v":0},{"c":"E","i":43,"t":4,"v":1},{"c":"E","i":43,"t":5,"v":0},
{"c":"E","i":44,"t":0.5,"v":110},{"c":"E","i":44,"t":1,"v":70},{"c":"E","i":44,"t":2,"v":90},{"c":"E","i":44,"t":3,"v":120},{"c":"E","i":44,"t":4,"v":100},{"c":"E","i":44,"t":5,"v":90},
{"c":"E","i":45,"t":0.5,"v":105},{"c":"E","i":45,"t":1,"v":125},{"c":"E","i":45,"t":2,"v":60},{"c":"E","i":45,"t":3,"v":85},{"c":"E","i":45,"t":4,"v":40},{"c":"E","i":45,"t":5,"v":75},
{"c":"E","i":46,"t":0.5,"v":88},{"c":"E","i":46,"t":1,"v":45},{"c":"E","i":46,"t":2,"v":115},{"c":"E","i":46,"t":3,"v":75},{"c":"E","i":46,"t":4,"v":90},{"c":"E","i":46,"t":5,"v":60},
{"c":"E","i":47,"t":0.5,"v":72},{"c":"E","i":47,"t":1,"v":95},{"c":"E","i":47,"t":2,"v":65},{"c":"E","i":47,"t":3,"v":110},{"c":"E","i":47,"t":4,"v":75},{"c":"E","i":47,"t":5,"v":80},
{"c":"E","i":48,"t":0.5,"v":62},{"c":"E","i":48,"t":1,"v":35},{"c":"E","i":48,"t":2,"v":85},{"c":"E","i":48,"t":3,"v":45},{"c":"E","i":48,"t":4,"v":60},{"c":"E","i":48,"t":5,"v":90},
{"c":"E","i":49,"t":0.5,"v":58},{"c":"E","i":49,"t":1,"v":80},{"c":"E","i":49,"t":2,"v":40},{"c":"E","i":49,"t":3,"v":80},{"c":"E","i":49,"t":4,"v":45},{"c":"E","i":49,"t":5,"v":45},
{"c":"E","i":50,"t":0.5,"v":52},{"c":"E","i":50,"t":1,"v":60},{"c":"E","i":50,"t":2,"v":70},{"c":"E","i":50,"t":3,"v":30},{"c":"E","i":50,"t":4,"v":65},{"c":"E","i":50,"t":5,"v":70},
{"c":"E","i":51,"t":0.5,"v":46},{"c":"E","i":51,"t":1,"v":70},{"c":"E","i":51,"t":2,"v":55},{"c":"E","i":51,"t":3,"v":55},{"c":"E","i":51,"t":4,"v":25},{"c":"E","i":51,"t":5,"v":50},
{"c":"E","i":52,"t":0.5,"v":36},{"c":"E","i":52,"t":1,"v":45},{"c":"E","i":52,"t":2,"v":65},{"c":"E","i":52,"t":3,"v":35},{"c":"E","i":52,"t":4,"v":45},{"c":"E","i":52,"t":5,"v":60},
{"c":"E","i":53,"t":0.5,"v":26},{"c":"E","i":53,"t":1,"v":40},{"c":"E","i":53,"t":2,"v":50},{"c":"E","i":53,"t":3,"v":50},{"c":"E","i":53,"t":4,"v":35},{"c":"E","i":53,"t":5,"v":40},
{"c":"E","i":54,"t":0.5,"v":16},{"c":"E","i":54,"t":1,"v":35},{"c":"E","i":54,"t":2,"v":40},{"c":"E","i":54,"t":3,"v":60},{"c":"E","i":54,"t":4,"v":30},{"c":"E","i":54,"t":5,"v":35},
{"c":"E","i":55,"t":0.5,"v":14},{"c":"E","i":55,"t":1,"v":25},{"c":"E","i":55,"t":2,"v":18},{"c":"E","i":55,"t":3,"v":22},{"c":"E","i":55,"t":4,"v":18},{"c":"E","i":55,"t":5,"v":22},
{"c":"E","i":56,"t":0.5,"v":24},{"c":"E","i":56,"t":1,"v":18},{"c":"E","i":56,"t":2,"v":22},{"c":"E","i":56,"t":3,"v":18},{"c":"E","i":56,"t":4,"v":22},{"c":"E","i":56,"t":5,"v":28},
{"c":"E","i":57,"t":0.5,"v":34},{"c":"E","i":57,"t":1,"v":28},{"c":"E","i":57,"t":2,"v":28},{"c":"E","i":57,"t":3,"v":28},{"c":"E","i":57,"t":4,"v":28},{"c":"E","i":57,"t":5,"v":32},
{"c":"E","i":58,"t":0.5,"v":44},{"c":"E","i":58,"t":1,"v":38},{"c":"E","i":58,"t":2,"v":38},{"c":"E","i":58,"t":3,"v":32},{"c":"E","i":58,"t":4,"v":32},{"c":"E","i":58,"t":5,"v":38},
{"c":"E","i":59,"t":0.5,"v":140},{"c":"E","i":59,"t":1,"v":150},{"c":"E","i":59,"t":2,"v":135},{"c":"E","i":59,"t":3,"v":100},{"c":"E","i":59,"t":4,"v":105},
{"c":"E","i":60,"t":0.5,"v":100},{"c":"E","i":60,"t":1,"v":90},{"c":"E","i":60,"t":2,"v":150},{"c":"E","i":60,"t":3,"v":120},{"c":"E","i":60,"t":4,"v":160},{"c":"E","i":60,"t":5,"v":130},
{"c":"E","i":61,"t":0.5,"v":30},{"c":"E","i":61,"t":1,"v":22},{"c":"E","i":61,"t":2,"v":35},{"c":"E","i":61,"t":3,"v":25},{"c":"E","i":61,"t":4,"v":20},{"c":"E","i":61,"t":5,"v":30},
{"c":"E","i":62,"t":0.5,"v":27},{"c":"E","i":62,"t":1,"v":33},{"c":"E","i":62,"t":2,"v":24},{"c":"E","i":62,"t":3,"v":30},{"c":"E","i":62,"t":4,"v":26},{"c":"E","i":62,"t":5,"v":18},
{"c":"E","i":63,"t":0.5,"v":21},{"c":"E","i":63,"t":1,"v":26},{"c":"E","i":63,"t":2,"v":30},{"c":"E","i":63,"t":3,"v":22},{"c":"E","i":63,"t":4,"v":28},{"c":"E","i":63,"t":5,"v":24},
{"c":"E","i":64,"t":0.5,"v":19},{"c":"E","i":64,"t":1,"v":12},{"c":"E","i":64,"t":2,"v":18},{"c":"E","i":64,"t":3,"v":26},{"c":"E","i":64,"t":4,"v":14},{"c":"E","i":64,"t":5,"v":20},
{"c":"E","i":65,"t":0.5,"v":17},{"c":"E","i":65,"t":1,"v":22},{"c":"E","i":65,"t":2,"v":14},{"c":"E","i":65,"t":3,"v":10},{"c":"E","i":65,"t":4,"v":24},{"c":"E","i":65,"t":5,"v":16},
{"c":"E","i":66,"t":0.5,"v":13},{"c":"E","i":66,"t":1,"v":18},{"c":"E","i":66,"t":2,"v":8},{"c":"E","i":66,"t":3,"v":16},{"c":"E","i":66,"t":4,"v":12},{"c":"E","i":66,"t":5,"v":22},
{"c":"E","i":67,"t":0.5,"v":11},{"c":"E","i":67,"t":1,"v":14},{"c":"E","i":67,"t":2,"v":24},{"c":"E","i":67,"t":3,"v":13},{"c":"E","i":67,"t":4,"v":18},{"c":"E","i":67,"t":5,"v":10},
{"c":"E","i":68,"t":0.5,"v":9},{"c":"E","i":68,"t":1,"v":6},{"c":"E","i":68,"t":2,"v":12},{"c":"E","i":68,"t":3,"v":20},{"c":"E","i":68,"t":4,"v":10},{"c":"E","i":68,"t":5,"v":14},
{"c":"E","i":69,"t":0.5,"v":7},{"c":"E","i":69,"t":1,"v":10},{"c":"E","i":69,"t":2,"v":16},{"c":"E","i":69,"t":3,"v":6},{"c":"E","i":69,"t":4,"v":15},{"c":"E","i":69,"t":5,"v":12},
{"c":"E","i":70,"t":0.5,"v":4},{"c":"E","i":70,"t":1,"v":8},{"c":"E","i":70,"t":2,"v":6},{"c":"E","i":70,"t":3,"v":12},{"c":"E","i":70,"t":4,"v":6},{"c":"E","i":70,"t":5,"v":9},
{"c":"E","i":71,"t":0.5,"v":33},{"c":"E","i":71,"t":1,"v":40},{"c":"E","i":71,"t":2,"v":28},{"c":"E","i":71,"t":3,"v":36},{"c":"E","i":71,"t":4,"v":30},{"c":"E","i":71,"t":5,"v":26},
{"c":"E","i":72,"t":0.5,"v":29},{"c":"E","i":72,"t":1,"v":18},{"c":"E","i":72,"t":2,"v":33},{"c":"E","i":72,"t":3,"v":14},{"c":"E","i":72,"t":4,"v":32},{"c":"E","i":72,"t":5,"v":28},
{"c":"E","i":73,"t":0.5,"v":23},{"c":"E","i":73,"t":1,"v":30},{"c":"E","i":73,"t":2,"v":12},{"c":"E","i":73,"t":3,"v":28},{"c":"E","i":73,"t":4,"v":8},{"c":"E","i":73,"t":5,"v":18},
{"c":"E","i":74,"t":0.5,"v":16},{"c":"E","i":74,"t":1,"v":5},{"c":"E","i":74,"t":2,"v":26},{"c":"E","i":74,"t":3,"v":18},{"c":"E","i":74,"t":4,"v":25},{"c":"E","i":74,"t":5,"v":6},
{"c":"E","i":75,"t":0.5,"v":39},{"c":"E","i":75,"t":1,"v":24},{"c":"E","i":75,"t":2,"v":42},{"c":"E","i":75,"t":3,"v":24},{"c":"E","i":75,"t":4,"v":38},{"c":"E","i":75,"t":5,"v":34}
]
},
"spacing":2,
"hconcat":[
{"title":{"text":"POPDI Score (Higher Scores = Lower QOL)","orient":"left","anchor":"middle","offset":8},
"spacing":4,
"vconcat":[
{"spacing":0,"vconcat":[
{"data":{"values":[{"lab":"Cluster A"}]},"width":457,"height":15,"view":{"stroke":"#555"},
"mark":{"type":"text","font":"Liberation Sans","fontSize":12,"color":"black"},
"encoding":{"text":{"field":"lab","type":"nominal"},"x":{"field":"lab","type":"nominal","scale":{"paddingInner":0,"paddingOuter":0},"axis":{"orient":"bottom","domainColor":"black","domainWidth":2,"ticks":false,"labels":false,"title":null}}}},
{"width":457,"height":150,
"encoding":{"x":{"field":"t","type":"quantitative","scale":{"domain":[0.39,5.04],"nice":false,"zero":false},"axis":null},
"y":{"field":"v","type":"quantitative","scale":{"domain":[-15,318],"nice":false,"zero":false},"axis":{"values":[0,50,100,150,200,250,300],"title":null}}},
"layer":[
{"data":{"name":"ind"},"transform":[{"filter":"datum.c=='A'"}],"mark":{"type":"line","color":"#45BDB7","strokeWidth":1.1,"opacity":0.8,"clip":true},"encoding":{"detail":{"field":"i","type":"nominal"}}},
{"data":{"name":"avg"},"transform":[{"filter":"datum.c=='A'"}],"mark":{"type":"line","color":"#FF0000","strokeWidth":3.5},"encoding":{}}
]}
]},
{"spacing":0,"vconcat":[
{"data":{"values":[{"lab":"Cluster C"}]},"width":457,"height":15,"view":{"stroke":"#555"},
"mark":{"type":"text","font":"Liberation Sans","fontSize":12,"color":"black"},
"encoding":{"text":{"field":"lab","type":"nominal"},"x":{"field":"lab","type":"nominal","scale":{"paddingInner":0,"paddingOuter":0},"axis":{"orient":"bottom","domainColor":"black","domainWidth":2,"ticks":false,"labels":false,"title":null}}}},
{"width":457,"height":150,
"encoding":{"x":{"field":"t","type":"quantitative","scale":{"domain":[0.39,5.04],"nice":false,"zero":false},"axis":null},
"y":{"field":"v","type":"quantitative","scale":{"domain":[-15,318],"nice":false,"zero":false},"axis":{"values":[0,50,100,150,200,250,300],"title":null}}},
"layer":[
{"data":{"name":"ind"},"transform":[{"filter":"datum.c=='C'"}],"mark":{"type":"line","color":"#45BDB7","strokeWidth":1.1,"opacity":0.8,"clip":true},"encoding":{"detail":{"field":"i","type":"nominal"}}},
{"data":{"name":"avg"},"transform":[{"filter":"datum.c=='C'"}],"mark":{"type":"line","color":"#FF0000","strokeWidth":3.5},"encoding":{}}
]}
]},
{"spacing":0,"vconcat":[
{"data":{"values":[{"lab":"Cluster E (Persistent Success)"}]},"width":457,"height":15,"view":{"stroke":"#555"},
"mark":{"type":"text","font":"Liberation Sans","fontSize":12,"color":"black"},
"encoding":{"text":{"field":"lab","type":"nominal"},"x":{"field":"lab","type":"nominal","scale":{"paddingInner":0,"paddingOuter":0},"axis":{"orient":"bottom","domainColor":"black","domainWidth":2,"ticks":false,"labels":false,"title":null}}}},
{"width":457,"height":150,
"encoding":{"x":{"field":"t","type":"quantitative","scale":{"domain":[0.39,5.04],"nice":false,"zero":false},"axis":{"values":[0.5,1,2,3,4,5],"format":"~g","title":null,"labelFlush":false,"labelPadding":4}},
"y":{"field":"v","type":"quantitative","scale":{"domain":[-15,318],"nice":false,"zero":false},"axis":{"values":[0,50,100,150,200,250,300],"title":null}}},
"layer":[
{"data":{"name":"ind"},"transform":[{"filter":"datum.c=='E'"}],"mark":{"type":"line","color":"#45BDB7","strokeWidth":1.1,"opacity":0.8,"clip":true},"encoding":{"detail":{"field":"i","type":"nominal"}}},
{"data":{"name":"avg"},"transform":[{"filter":"datum.c=='E'"}],"mark":{"type":"line","color":"#FF0000","strokeWidth":3.5},"encoding":{}}
]}
]}
]},
{"spacing":4,
"vconcat":[
{"spacing":0,"vconcat":[
{"data":{"values":[{"lab":"Cluster B"}]},"width":459,"height":15,"view":{"stroke":"#555"},
"mark":{"type":"text","font":"Liberation Sans","fontSize":12,"color":"black"},
"encoding":{"text":{"field":"lab","type":"nominal"},"x":{"field":"lab","type":"nominal","scale":{"paddingInner":0,"paddingOuter":0},"axis":{"orient":"bottom","domainColor":"black","domainWidth":2,"ticks":false,"labels":false,"title":null}}}},
{"width":459,"height":150,
"encoding":{"x":{"field":"t","type":"quantitative","scale":{"domain":[0.39,5.075],"nice":false,"zero":false},"axis":null},
"y":{"field":"v","type":"quantitative","scale":{"domain":[-15,318],"nice":false,"zero":false},"axis":null}},
"layer":[
{"data":{"name":"ind"},"transform":[{"filter":"datum.c=='B'"}],"mark":{"type":"line","color":"#45BDB7","strokeWidth":1.1,"opacity":0.8,"clip":true},"encoding":{"detail":{"field":"i","type":"nominal"}}},
{"data":{"name":"avg"},"transform":[{"filter":"datum.c=='B'"}],"mark":{"type":"line","color":"#FF0000","strokeWidth":3.5},"encoding":{}}
]}
]},
{"spacing":0,"vconcat":[
{"data":{"values":[{"lab":"Cluster D"}]},"width":459,"height":15,"view":{"stroke":"#555"},
"mark":{"type":"text","font":"Liberation Sans","fontSize":12,"color":"black"},
"encoding":{"text":{"field":"lab","type":"nominal"},"x":{"field":"lab","type":"nominal","scale":{"paddingInner":0,"paddingOuter":0},"axis":{"orient":"bottom","domainColor":"black","domainWidth":2,"ticks":false,"labels":false,"title":null}}}},
{"width":459,"height":150,
"encoding":{"x":{"field":"t","type":"quantitative","scale":{"domain":[0.39,5.075],"nice":false,"zero":false},"axis":{"values":[0.5,1,2,3,4,5],"format":"~g","title":null,"labelFlush":false,"labelPadding":4}},
"y":{"field":"v","type":"quantitative","scale":{"domain":[-15,318],"nice":false,"zero":false},"axis":null}},
"layer":[
{"data":{"name":"ind"},"transform":[{"filter":"datum.c=='D'"}],"mark":{"type":"line","color":"#45BDB7","strokeWidth":1.1,"opacity":0.8,"clip":true},"encoding":{"detail":{"field":"i","type":"nominal"}}},
{"data":{"name":"avg"},"transform":[{"filter":"datum.c=='D'"}],"mark":{"type":"line","color":"#FF0000","strokeWidth":3.5},"encoding":{}}
]}
]}
]}
]
}
